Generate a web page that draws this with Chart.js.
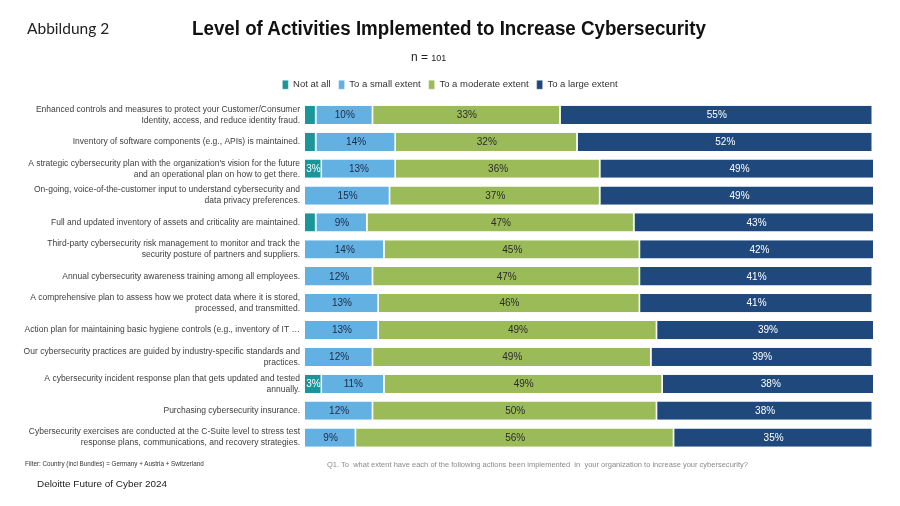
<!DOCTYPE html>
<html>
<head>
<meta charset="utf-8">
<script src="https://cdn.jsdelivr.net/npm/chart.js@4"></script>
<style>
  html, body { margin: 0; padding: 0; background: #fff; }
  #wrap { position: relative; width: 900px; height: 506px; overflow: hidden; }
  #chart { position: absolute; left: 0; top: 0; }
  .t { position: absolute; white-space: nowrap; font-family: "Liberation Sans", Arial, sans-serif; }
</style>
</head>
<body>
<div id="wrap">
  <canvas id="chart" width="900" height="506"></canvas>
  <div class="t" id="abb" style="left:27px; top:19px; font-family: Lato, sans-serif; font-size:15.5px; color:#222;">Abbildung 2</div>
  <div class="t" id="title" style="left:192px; top:17px; font-size:20px; font-weight:bold; color:#111; transform-origin: left top;">Level of Activities Implemented to Increase Cybersecurity</div>
  <div class="t" style="left:411px; top:50px; font-size:12px; color:#222;">n = <span style="font-size:9px;">101</span></div>
  <div class="t" style="left:25px; top:460px; font-size:6.3px; color:#333;">Filter: Country (incl Bundles) = Germany + Austria + Switzerland</div>
  <div class="t" id="q1" style="left:327px; top:460px; font-size:8px; color:#8a8a8a; transform-origin: left top;">Q1. To&nbsp; what extent have each of the following actions been implemented&nbsp; in&nbsp; your organization to increase your cybersecurity?</div>
  <div class="t" id="del" style="left:37px; top:478px; font-size:9.5px; color:#222; transform-origin: left top;">Deloitte Future of Cyber 2024</div>
</div>
<script>
// ---- Data ----
const categories = [
  ["Enhanced controls and measures to protect your Customer/Consumer", "Identity, access, and reduce identity fraud."],
  "Inventory of software components (e.g., APIs) is maintained.",
  ["A strategic cybersecurity plan with the organization's vision for the future", "and an operational plan on how to get there."],
  ["On-going, voice-of-the-customer input to understand cybersecurity and", "data privacy preferences."],
  "Full and updated inventory of assets and criticality are maintained.",
  ["Third-party cybersecurity risk management to monitor and track the", "security posture of partners and suppliers."],
  "Annual cybersecurity awareness training among all employees.",
  ["A comprehensive plan to assess how we protect data where it is stored,", "processed, and transmitted."],
  "Action plan for maintaining basic hygiene controls (e.g., inventory of IT \u2026",
  ["Our cybersecurity practices are guided by industry-specific standards and", "practices."],
  ["A cybersecurity incident response plan that gets updated and tested", "annually."],
  "Purchasing cybersecurity insurance.",
  ["Cybersecurity exercises are conducted at the C-Suite level to stress test", "response plans, communications, and recovery strategies."]
];
const seriesNames = ["Not at all", "To a small extent", "To a moderate extent", "To a large extent"];
const notAtAll      = [2, 2, 3, 0, 2, 0, 0, 0, 0, 0, 3, 0, 0];
const smallExtent   = [10, 14, 13, 15, 9, 14, 12, 13, 13, 12, 11, 12, 9];
const moderateExtent= [33, 32, 36, 37, 47, 45, 47, 46, 49, 49, 49, 50, 56];
const largeExtent   = [55, 52, 49, 49, 43, 42, 41, 41, 39, 39, 38, 38, 35];
const axisMax = 100;

const colors = ["#1a969b", "#63b0e3", "#9bbb59", "#1f497d"];
const labelColors = ["#ffffff", "#1c2b45", "#2b2b2b", "#ffffff"];
const seriesData = [notAtAll, smallExtent, moderateExtent, largeExtent];

const valueLabels = {
  id: 'valueLabels',
  afterDatasetsDraw(chart) {
    const ctx = chart.ctx;
    ctx.save();
    ctx.font = '10px "Liberation Sans", Arial, sans-serif';
    ctx.textAlign = 'center';
    ctx.textBaseline = 'middle';
    chart.data.datasets.forEach((ds, di) => {
      const meta = chart.getDatasetMeta(di);
      meta.data.forEach((el, i) => {
        const v = ds.data[i];
        if (v < 3) return;
        const cx = (el.x + el.base) / 2;
        ctx.fillStyle = labelColors[di];
        ctx.fillText(v + '%', cx, el.y + 0.5);
      });
    });
    ctx.restore();
  }
};

// shift the legend block to sit centred over the bar area like the reference
const legendShift = {
  id: 'legendShift',
  afterLayout(chart) {
    if (chart.legend) { chart.legend.left += 27; }
  }
};

new Chart(document.getElementById('chart'), {
  type: 'bar',
  data: {
    labels: categories,
    datasets: seriesNames.map((n, i) => ({
      label: n,
      data: seriesData[i],
      backgroundColor: colors[i],
      borderColor: '#ffffff',
      borderWidth: { top: 0, bottom: 0, left: 0, right: 1.5 },
      borderSkipped: false,
      categoryPercentage: 0.68,
      barPercentage: 1.0
    }))
  },
  options: {
    indexAxis: 'y',
    responsive: false,
    animation: false,
    layout: { padding: { left: 0, right: 27, top: 72, bottom: 55 } },
    scales: {
      x: {
        stacked: true, min: 0, max: axisMax, position: 'top',
        grid: { display: false, drawTicks: false },
        border: { display: false },
        ticks: { display: false },
        afterFit(scale) { scale.height = 2; }
      },
      y: {
        stacked: true,
        grid: { display: false, drawTicks: false },
        border: { display: false },
        afterFit(scale) { scale.width = 305; },
        ticks: {
          font: { family: '"Liberation Sans", Arial, sans-serif', size: 8.5, lineHeight: 1.3 },
          color: '#404040',
          padding: 5,
          autoSkip: false
        }
      }
    },
    plugins: {
      legend: {
        position: 'top',
        align: 'center',
        labels: {
          boxWidth: 6,
          boxHeight: 9,
          padding: 8,
          color: '#333',
          font: { family: '"Liberation Sans", Arial, sans-serif', size: 9.5 }
        }
      },
      tooltip: { enabled: false }
    }
  },
  plugins: [valueLabels, legendShift]
});

// fit condensed texts to the reference widths
function fit(id, w) {
  const el = document.getElementById(id);
  const r = el.getBoundingClientRect().width;
  el.style.transform = 'scaleX(' + (w / r) + ')';
}
fit('title', 514);
fit('q1', 421);
fit('del', 130);
</script>
</body>
</html>
